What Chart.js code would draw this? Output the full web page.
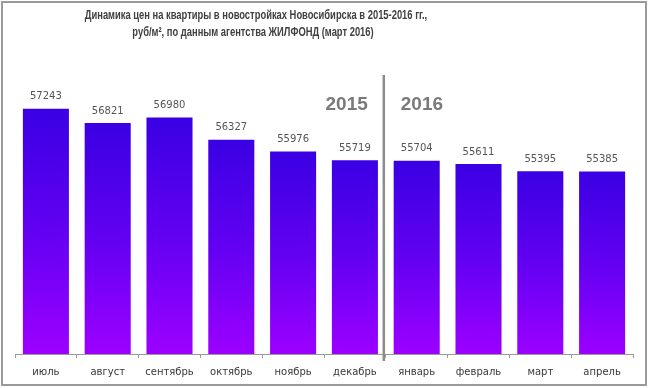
<!DOCTYPE html>
<html>
<head>
<meta charset="utf-8">
<script src="https://cdn.jsdelivr.net/npm/chart.js@4/dist/chart.umd.min.js"></script>
<style>
html,body{margin:0;padding:0;background:#fff;}
canvas{display:block;}
</style>
</head>
<body>
<canvas id="c" width="649" height="388"></canvas>
<script>
const months = ["июль","август","сентябрь","октябрь","ноябрь","декабрь","январь","февраль","март","апрель"];
const prices = [57243,56821,56980,56327,55976,55719,55704,55611,55395,55385];
const titleLines = ["Динамика цен на квартиры в новостройках Новосибирска в 2015-2016 гг.,","руб/м², по данным агентства ЖИЛФОНД (март 2016)"];
const yearLabels = ["2015","2016"];
const yearSplitIndex = 6;

function barGradient(ctx){
  const chart = ctx.chart;
  const ys = chart.scales.y;
  if (!ys || ctx.type !== 'data') return '#6000f0';
  const top = ys.getPixelForValue(ctx.raw);
  const bot = ys.getPixelForValue(ys.min);
  if (!isFinite(top) || !isFinite(bot) || bot - top < 1) return '#6000f0';
  const g = chart.ctx.createLinearGradient(0, top, 0, bot);
  g.addColorStop(0, '#3a00e4');
  g.addColorStop(0.5, '#6200f2');
  g.addColorStop(1, '#9c00ff');
  return g;
}

const decor = {
  id: 'decor',
  afterDatasetsDraw(chart){
    const c = chart.ctx;
    const meta = chart.getDatasetMeta(0);
    c.save();
    c.font = '10px "DejaVu Sans"';
    c.fillStyle = '#555555';
    c.textAlign = 'center';
    c.textBaseline = 'middle';
    meta.data.forEach((bar, i) => {
      c.fillText(String(prices[i]), bar.x, bar.y - 12);
    });
    c.restore();
  },
  afterDraw(chart){
    const c = chart.ctx;
    const xs = chart.scales.x;
    c.save();
    // frame
    c.strokeStyle = '#9a9a9a';
    c.lineWidth = 2;
    c.strokeRect(2, 2, 644, 383);
    // title (horizontally condensed)
    c.fillStyle = '#404040';
    c.textAlign = 'center';
    c.textBaseline = 'middle';
    c.font = 'bold 12.5px "Liberation Sans"';
    const sc = 0.75;
    c.save();
    c.scale(sc, 1);
    c.fillText(titleLines[0], 256 / sc, 16);
    c.fillText(titleLines[1], 253 / sc, 33);
    c.restore();
    // separator
    const sx = (xs.getPixelForValue(yearSplitIndex - 1) + xs.getPixelForValue(yearSplitIndex)) / 2 - 2;
    c.strokeStyle = '#8c8c8c';
    c.lineWidth = 2.5;
    c.beginPath();
    c.moveTo(sx, 75);
    c.lineTo(sx, 361);
    c.stroke();
    // years
    c.font = 'bold 19px "Liberation Sans"';
    c.fillStyle = '#7a7a7a';
    c.textAlign = 'right';
    c.fillText(yearLabels[0], sx - 16, 105);
    c.textAlign = 'left';
    c.fillText(yearLabels[1], sx + 17, 105);
    c.restore();
  }
};

new Chart(document.getElementById('c'), {
  type: 'bar',
  data: {
    labels: months,
    datasets: [{
      data: prices,
      backgroundColor: barGradient,
      borderWidth: 0,
      categoryPercentage: 1,
      barPercentage: 0.745
    }]
  },
  options: {
    responsive: false,
    devicePixelRatio: 1,
    animation: false,
    layout: { padding: { left: 15, right: 16, top: 83, bottom: 2 } },
    plugins: { legend: { display: false }, tooltip: { enabled: false }, title: { display: false } },
    scales: {
      y: { display: false, min: 50000, max: 58000 },
      x: {
        grid: { display: true, drawOnChartArea: false, drawTicks: true, tickLength: 4, color: '#9a9a9a', offset: true },
        border: { display: true, color: '#9a9a9a', width: 1 },
        ticks: { color: '#383838', font: { family: 'DejaVu Sans', size: 10 }, padding: 8, maxRotation: 0 }
      }
    }
  },
  plugins: [decor]
});
</script>
</body>
</html>
